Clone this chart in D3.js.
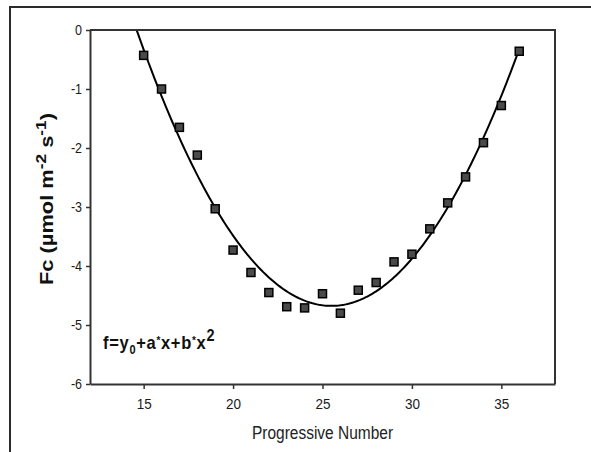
<!DOCTYPE html>
<html>
<head>
<meta charset="utf-8">
<script src="https://cdn.jsdelivr.net/npm/d3@7"></script>
<style>
  html, body { margin: 0; padding: 0; background: #fff; }
  svg { display: block; font-family: "Liberation Sans", Arial, sans-serif; }
</style>
</head>
<body>
<svg id="chart" width="591" height="452"></svg>
<script>
// Progressive number of each observation and the measured CO2 flux
const progressive = [15, 16, 17, 18, 19, 20, 21, 22, 23, 24, 25, 26, 27, 28, 29, 30, 31, 32, 33, 34, 35, 36];
const fc = [-0.43, -1.0, -1.65, -2.12, -3.03, -3.73, -4.11, -4.45, -4.69, -4.71, -4.47, -4.80,
            -4.41, -4.28, -3.93, -3.80, -3.37, -2.93, -2.49, -1.91, -1.28, -0.36];
const xTicks = [15, 20, 25, 30, 35];
const yTicks = [0, -1, -2, -3, -4, -5, -6];

const svg = d3.select("#chart");
const m = { left: 90, top: 30, right: 555, bottom: 384 };
const stretch = 1.15; // text is drawn slightly taller than wide

const x = d3.scaleLinear().domain([12, 38]).range([m.left, m.right]);
const y = d3.scaleLinear().domain([-6, 0]).range([m.bottom, m.top]);

// Outer frame
svg.append("rect")
  .attr("x", 10).attr("y", 7).attr("width", 600).attr("height", 500)
  .attr("fill", "none").attr("stroke", "#2a2a2a").attr("stroke-width", 2);

// Least-squares quadratic f = y0 + a*x + b*x^2 fitted to the observations
function quadFit(xs, ys) {
  let n = xs.length, sx = 0, sx2 = 0, sx3 = 0, sx4 = 0, sy = 0, sxy = 0, sx2y = 0;
  for (let i = 0; i < n; i++) {
    const xi = xs[i], yi = ys[i];
    sx += xi; sx2 += xi * xi; sx3 += xi ** 3; sx4 += xi ** 4;
    sy += yi; sxy += xi * yi; sx2y += xi * xi * yi;
  }
  const A = [[n, sx, sx2, sy], [sx, sx2, sx3, sxy], [sx2, sx3, sx4, sx2y]];
  for (let c = 0; c < 3; c++) {
    for (let r = c + 1; r < 3; r++) {
      const f = A[r][c] / A[c][c];
      for (let k = c; k < 4; k++) A[r][k] -= f * A[c][k];
    }
  }
  const s = [0, 0, 0];
  for (let r = 2; r >= 0; r--) {
    let v = A[r][3];
    for (let k = r + 1; k < 3; k++) v -= A[r][k] * s[k];
    s[r] = v / A[r][r];
  }
  return s; // [y0, a, b]
}
const [y0, a, b] = quadFit(progressive, fc);

svg.append("clipPath").attr("id", "plotClip")
  .append("rect").attr("x", m.left).attr("y", m.top)
  .attr("width", m.right - m.left).attr("height", m.bottom - m.top);

const curveX = d3.range(13, 36.0001, 0.1);
svg.append("path")
  .attr("clip-path", "url(#plotClip)")
  .attr("d", d3.line().x(d => x(d)).y(d => y(y0 + a * d + b * d * d))(curveX))
  .attr("fill", "none").attr("stroke", "#000").attr("stroke-width", 2);

// Observations
const sz = 8;
svg.append("g").selectAll("rect").data(progressive).join("rect")
  .attr("x", d => x(d) - sz / 2)
  .attr("y", (d, i) => y(fc[i]) - sz / 2)
  .attr("width", sz).attr("height", sz)
  .attr("fill", "#4a4a4a").attr("stroke", "#000").attr("stroke-width", 1.5);

// Plot box (top and right)
svg.append("path")
  .attr("d", `M${m.left},${m.top}H${m.right}V${m.bottom}`)
  .attr("fill", "none").attr("stroke", "#333").attr("stroke-width", 2);

// Axes
const xAxis = svg.append("g").attr("transform", `translate(0,${m.bottom})`)
  .call(d3.axisBottom(x).tickValues(xTicks).tickSize(5).tickPadding(0).tickSizeOuter(0));
const yAxis = svg.append("g").attr("transform", `translate(${m.left},0)`)
  .call(d3.axisLeft(y).tickValues(yTicks).tickSize(4).tickPadding(0).tickSizeOuter(0)
    .tickFormat(d => String(d)));

[xAxis, yAxis].forEach(g => {
  g.select(".domain").attr("stroke", "#333").attr("stroke-width", 2);
  g.selectAll(".tick line").attr("stroke", "#333").attr("stroke-width", 1.5);
  g.selectAll("text").attr("fill", "#1a1a1a").attr("font-family", "Liberation Sans, Arial, sans-serif");
});
xAxis.selectAll(".tick text")
  .attr("font-size", 13.5).attr("y", null).attr("dy", null)
  .attr("dominant-baseline", "auto")
  .attr("transform", `translate(0,25) scale(1,${stretch})`);
yAxis.selectAll(".tick text")
  .attr("font-size", 12.5).attr("x", null).attr("dy", null)
  .attr("transform", `translate(-8,4.5) scale(1,${stretch})`);

// Axis titles
svg.append("text")
  .attr("transform", `translate(${(m.left + m.right) / 2},439) scale(1,${stretch})`)
  .attr("text-anchor", "middle").attr("font-size", 15.5).attr("fill", "#222")
  .text("Progressive Number");

const yTitle = svg.append("text")
  .attr("transform", `translate(53,199) scale(1,${stretch}) rotate(-90)`)
  .attr("text-anchor", "middle").attr("font-size", 19).attr("font-weight", "bold").attr("fill", "#111");
yTitle.append("tspan").text("Fc (µmol m");
yTitle.append("tspan").attr("dy", -7).attr("font-size", 15).text("-2");
yTitle.append("tspan").attr("dy", 7).text(" s");
yTitle.append("tspan").attr("dy", -7).attr("font-size", 15).text("-1");
yTitle.append("tspan").attr("dy", 7).text(")");

// Fitted equation
const eq = svg.append("text")
  .attr("transform", `translate(103,349) scale(1,${stretch})`)
  .attr("font-size", 16.5).attr("font-weight", "bold").attr("fill", "#111")
  .attr("letter-spacing", 0.7);
eq.append("tspan").text("f=y");
eq.append("tspan").attr("dy", 4).attr("font-size", 11).text("0");
eq.append("tspan").attr("dy", -4).text("+a");
eq.append("tspan").attr("font-size", 10).attr("dy", -4).text("*");
eq.append("tspan").attr("dy", 4).text("x+b");
eq.append("tspan").attr("font-size", 10).attr("dy", -4).text("*");
eq.append("tspan").attr("dy", 4).text("x");
eq.append("tspan").attr("dy", -7).attr("font-size", 14.5).text("2");
</script>
</body>
</html>
